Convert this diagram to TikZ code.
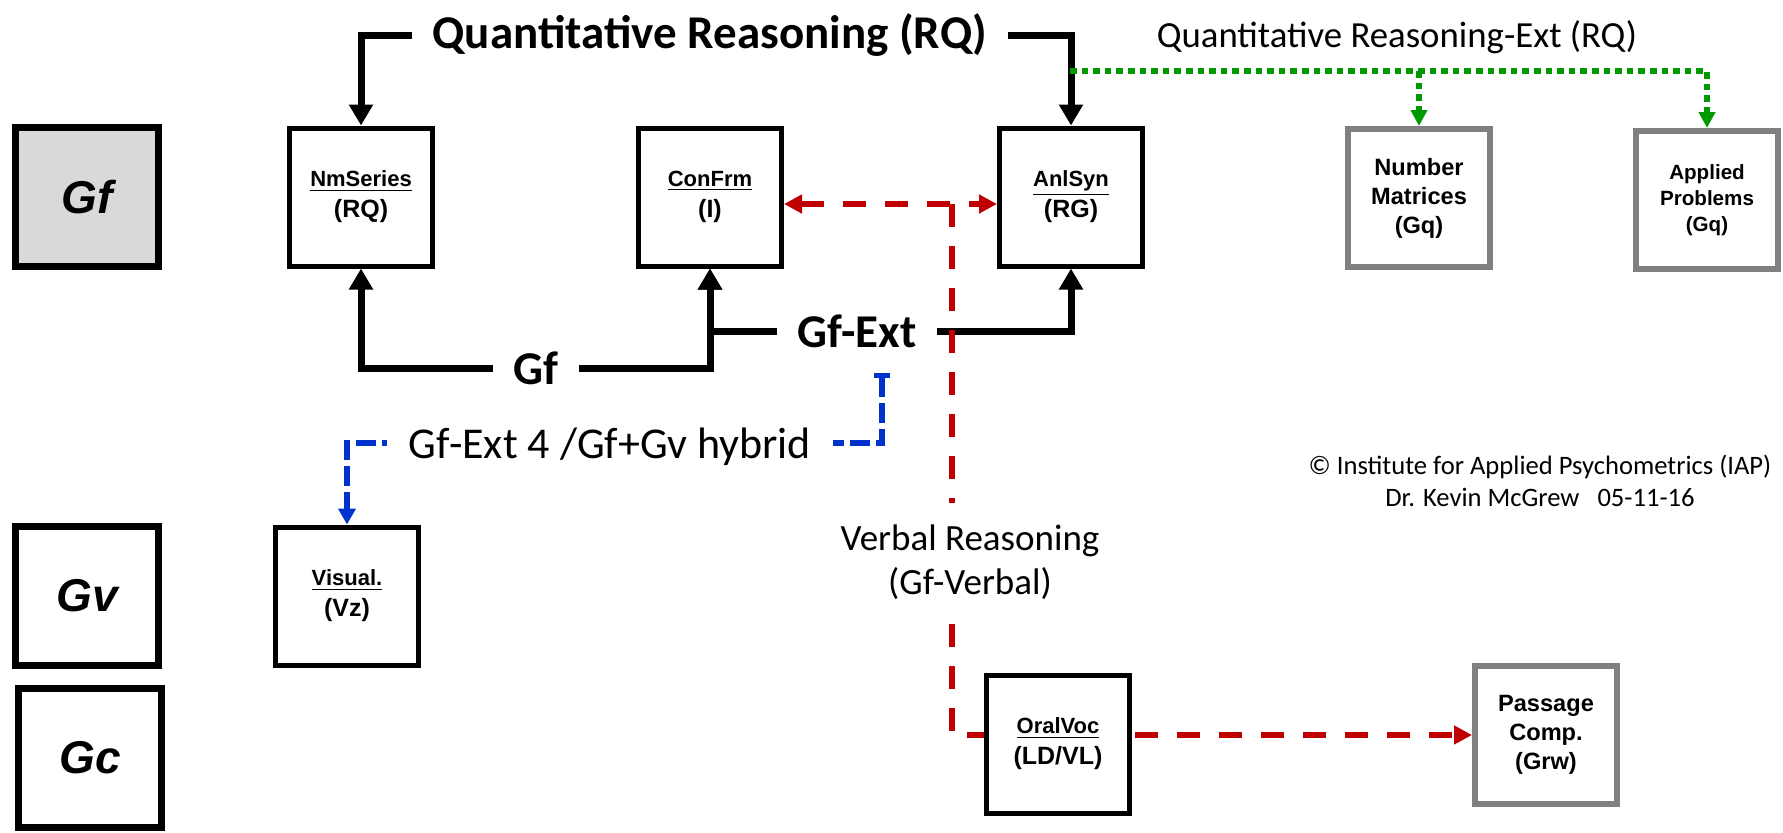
\documentclass[tikz,border=0pt]{standalone}
\usepackage{fontspec}
\setmainfont{Carlito}
\newfontfamily\arialfont{Liberation Sans}
\usetikzlibrary{arrows.meta}
\definecolor{iapred}{HTML}{C00000}
\definecolor{iapblue}{HTML}{0033CC}
\definecolor{iapgreen}{HTML}{009900}
\definecolor{iapgray}{HTML}{808080}
\definecolor{iapfill}{HTML}{D9D9D9}
\newcommand{\code}[1]{{\fontsize{12.5}{15}\selectfont #1}}
\tikzstyle{test} = [rectangle, minimum width=71.5pt, minimum height=69pt, text centered, align=center, draw=black, line width=2.5pt, fill=white, font=\arialfont\bfseries\fontsize{11}{15.5}\selectfont]
\tikzstyle{ability} = [test, line width=3.7pt, minimum width=71.3pt, minimum height=69.3pt, font=\arialfont\bfseries\itshape\fontsize{23}{27}\selectfont]
\tikzstyle{extra} = [test, draw=iapgray, line width=2.8pt, minimum width=71.2pt, minimum height=69.2pt, font=\arialfont\bfseries\fontsize{11.8}{14.5}\selectfont]
\tikzstyle{heading} = [inner sep=10pt, font=\bfseries\fontsize{23.5}{27}\selectfont]
\tikzstyle{caption} = [fill=white, inner sep=11pt, align=center]
\tikzstyle{arrow} = [line width=3.5pt, ->, >={Triangle[length=10.5pt,width=11.5pt]}]
\tikzstyle{redarrow} = [line width=2.8pt, draw=iapred, dash pattern=on 11.5pt off 9.5pt, ->, >={Triangle[length=9pt,width=9pt]}]
\tikzstyle{bluearrow} = [line width=2.6pt, draw=iapblue, dash pattern=on 10pt off 3pt, arrows={Bar[width=8pt]-Triangle[length=8pt,width=8.5pt]}]
\tikzstyle{greenarrow} = [line width=2.8pt, draw=iapgreen, dash pattern=on 3.3pt off 2.5pt, ->, >={Triangle[length=8pt,width=8pt]}]
\begin{document}
\begin{tikzpicture}[x=0.5pt, y=-0.5pt]
  \useasboundingbox (0,0) rectangle (1783,832);
  % broad abilities
  \node (gf) [ability, fill=iapfill] at (87,197) {Gf};
  \node (gv) [ability] at (87,596) {Gv};
  \node (gc) [ability] at (90,758) {Gc};
  % tests
  \node (nmseries) [test] at (361,197) {\underline{NmSeries}\\\code{(RQ)}};
  \node (confrm) [test] at (710,197) {\underline{ConFrm}\\\code{(I)}};
  \node (anlsyn) [test] at (1071,197) {\underline{AnlSyn}\\\code{(RG)}};
  \node (visual) [test] at (347,596) {\underline{Visual.}\\\code{(Vz)}};
  \node (nummat) [extra] at (1419,198) {Number\\Matrices\\(Gq)};
  \node (appprob) [extra, font=\arialfont\bfseries\fontsize{10.3}{13}\selectfont] at (1707,200) {Applied\\Problems\\(Gq)};
  \node (passage) [extra] at (1546,735) {Passage\\Comp.\\(Grw)};
  % headings
  \node (qr) [heading] at (710,35) {Quantitative Reasoning (RQ)};
  \node (gftext) [heading] at (536,368) {Gf};
  \node (gfext) [heading] at (857,331) {Gf-Ext};
  \node (qrext) [font=\fontsize{18.4}{22}\selectfont] at (1397,37) {Quantitative Reasoning-Ext (RQ)};
  \node (copy) [align=center, font=\fontsize{13.3}{16}\selectfont] at (1540,481) {© Institute for Applied Psychometrics (IAP)\\Dr. Kevin McGrew~~~05-11-16};
  % connectors
  \draw [arrow] (qr.west) -| (nmseries.north);
  \draw [arrow] (qr.east) -| (anlsyn.north);
  \draw [arrow] (gftext.west) -| (nmseries.south);
  \draw [arrow] (gftext.east) -| (confrm.south);
  \draw [arrow] (gfext.west) -| (confrm.south);
  \draw [arrow] (gfext.east) -| (anlsyn.south);
  \coordinate (vtop) at (952,204);
  \draw [redarrow, <->] (confrm.east |- vtop) -- (anlsyn.west |- vtop);
  \draw [redarrow] (vtop) |- (passage.west);
  \coordinate (hybtop) at (882,373);
  \coordinate (hybturn) at (610,443);
  \draw [bluearrow] (hybtop) |- (hybturn) -| (visual.north);
  \coordinate (qrx) at (1070,71);
  \draw [greenarrow] (qrx) -| (appprob.north);
  \draw [greenarrow] (qrx -| nummat.north) -- (nummat.north);
  % labels over the dashed lines
  \node (hybrid) [caption, font=\fontsize{22}{26}\selectfont] at (610,447) {Gf-Ext 4 /Gf+Gv hybrid};
  \node (verbal) [caption, font=\fontsize{18.5}{22}\selectfont] at (970,562) {Verbal Reasoning\\(Gf-Verbal)};
  \node (oralvoc) [test] at (1058,744) {\underline{OralVoc}\\\code{(LD/VL)}};
\end{tikzpicture}
\end{document}
